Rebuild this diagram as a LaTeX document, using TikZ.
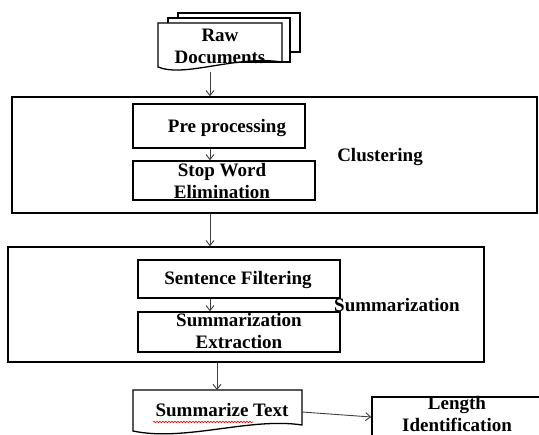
\documentclass[tikz,border=0pt]{standalone}
\usepackage{fontspec}
\setmainfont{Liberation Serif}
\usetikzlibrary{decorations.pathmorphing, arrows.meta}

\begin{document}
\begin{tikzpicture}[x=1pt, y=-1pt,
    txt/.style={font=\fontsize{19}{22}\selectfont\bfseries, align=center, inner sep=0pt},
    box/.style={draw, line width=1.5pt, inner sep=0pt},
    outer/.style={draw, line width=1.5pt, inner sep=0pt},
    page/.style={draw, line width=1.3pt, fill=white},
    arr/.style={-{Straight Barb[length=5pt, width=8pt]}, black!75, line width=0.9pt}
]
    \clip (0,0) rectangle (539,435);
    \fill[white] (0,0) rectangle (539,435);

    % raw documents (stacked pages)
    \draw[page] (178,13) rectangle (300,52);
    \draw[page] (168,18) rectangle (290,62);
    \draw[page] (158,23) -- (282,23) -- (282,62)
        .. controls (235,55) and (185,78) .. (158,67) -- cycle;
    \node[txt] (raw) at (220,46) {Raw\\Documents};
    \coordinate (rawbot) at (210,72);

    % clustering block
    \node[outer, minimum width=525, minimum height=116] (clus) at (274.5,155) {};
    \node[box, minimum width=172, minimum height=44] (pre) at (219,126) {};
    \node[txt] (pretext) at (227,128) {Pre processing};
    \node[box, minimum width=182, minimum height=39] (stop) at (224,180.5) {};
    \node[txt] (stoptext) at (222,181) {Stop Word\\Elimination};
    \node[txt] (clustext) at (380,157) {Clustering};

    % summarization block
    \node[outer, minimum width=476, minimum height=115] (summ) at (246,304.5) {};
    \node[box, minimum width=202, minimum height=38] (sent) at (239,279) {};
    \node[txt] (senttext) at (238,280) {Sentence Filtering};
    \node[box, minimum width=202, minimum height=40] (extr) at (239,332) {};
    \node[txt] (extrtext) at (239,331) {Summarization\\Extraction};
    \node[txt] (summtext) at (397,305) {Summarization};

    % output
    \draw[page] (133,390) -- (302,390) -- (302,425)
        .. controls (250,417) and (185,442) .. (133,431) -- cycle;
    \node[txt] (sumtext) at (222,410) {Summarize Text};
    \draw[red, line width=0.6pt, decorate,
        decoration={snake, amplitude=0.8pt, segment length=3pt}] (153,422) -- (253,422);
    \coordinate (stx) at (302,412);
    \node[box, minimum width=200, minimum height=40] (len) at (472,417) {};
    \node[txt] (lentext) at (457,414) {Length\\Identification};

    % connectors
    \coordinate (a1) at (210,0);
    \coordinate (a2) at (217,0);
    \draw[arr] (rawbot) -- (rawbot |- clus.north);
    \draw[arr] (pre.south -| a1) -- (stop.north -| a1);
    \draw[arr] (clus.south -| a1) -- (summ.north -| a1);
    \draw[arr] (sent.south -| a1) -- (extr.north -| a1);
    \draw[arr] (summ.south -| a2) -- (a2 |- 0,390);
    \draw[arr] (stx) -- (len.west);
\end{tikzpicture}
\end{document}
